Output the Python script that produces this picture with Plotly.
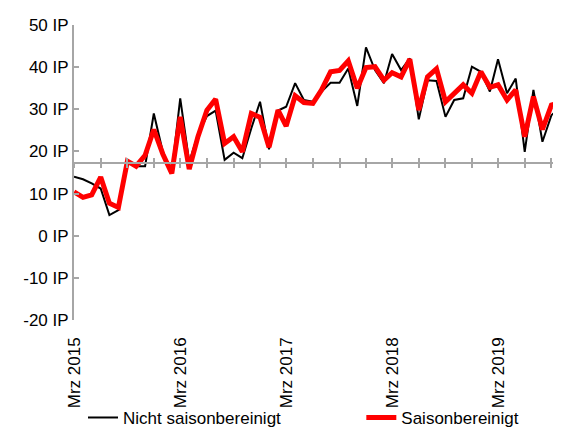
import pandas as pd
import plotly.graph_objects as go

months = pd.date_range("2015-03-01", periods=56, freq="MS")
nicht_saisonbereinigt = [
    14.0, 13.4, 12.4, 11.2, 4.9, 6.1, 17.6, 16.5, 16.5, 29.0, 19.9, 15.2,
    32.6, 17.5, 24.0, 28.4, 29.7, 18.0, 19.7, 18.4, 25.5, 31.8, 20.5, 29.7,
    30.6, 36.2, 32.2, 31.8, 34.2, 36.3, 36.3, 39.7, 30.8, 44.7, 39.3, 36.2,
    43.1, 39.3, 42.1, 27.6, 36.9, 36.7, 28.2, 32.2, 32.6, 40.1, 38.9, 34.2,
    41.9, 33.8, 37.3, 19.9, 34.6, 22.3, 28.6, 30.5,
]
saisonbereinigt = [
    10.4, 9.1, 9.7, 13.9, 7.7, 6.7, 17.7, 16.5, 19.1, 25.2, 19.4, 14.8,
    28.2, 15.8, 23.5, 29.8, 32.4, 21.9, 23.5, 19.9, 29.0, 28.1, 21.0, 29.8,
    26.0, 33.2, 31.6, 31.4, 34.6, 38.9, 39.2, 41.5, 35.0, 39.9, 40.1, 36.9,
    38.7, 37.7, 41.9, 29.8, 37.7, 39.6, 31.8, 33.8, 35.8, 33.8, 38.9, 35.2,
    35.8, 32.2, 34.6, 23.5, 33.0, 25.2, 31.0, 31.6,
]
tick_dates = ["2015-03-01", "2016-03-01", "2017-03-01", "2018-03-01", "2019-03-01"]
tick_labels = ["Mrz 2015", "Mrz 2016", "Mrz 2017", "Mrz 2018", "Mrz 2019"]
y_ticks = [-20, -10, 0, 10, 20, 30, 40, 50]
y_labels = [f"{v} IP" for v in y_ticks]
x_cross = 17.2
y_min, y_max = -20, 50
x_range = ["2015-03-01", "2019-10-04"]

FONT = "Liberation Sans, Arial, sans-serif"
GRAY = "#a6a6a6"

fig = go.Figure()
fig.add_trace(go.Scatter(x=months, y=nicht_saisonbereinigt, mode="lines",
                         name="Nicht saisonbereinigt", legend="legend",
                         line=dict(color="black", width=2)))
fig.add_trace(go.Scatter(x=months, y=saisonbereinigt, mode="lines",
                         name="Saisonbereinigt", legend="legend2",
                         line=dict(color="#ff0000", width=5)))

pos = (x_cross - y_min) / (y_max - y_min)
common = dict(overlaying="x", matches="x", anchor="free", position=pos,
              type="date", showline=True, linecolor=GRAY, linewidth=2,
              showticklabels=False, showgrid=False, zeroline=False,
              tick0="2015-03-01", dtick="M3", ticklen=4, tickwidth=2,
              tickcolor=GRAY, automargin=False)

legend_style = dict(orientation="h", xanchor="left", y=-0.332,
                    yanchor="middle", font=dict(size=17),
                    bgcolor="rgba(0,0,0,0)")

# page body has an 8px default margin, so the figure is sized to fit it
fig.update_layout(
    width=553, height=421,
    margin=dict(l=66, r=0, t=17, b=109, autoexpand=False),
    paper_bgcolor="white", plot_bgcolor="white",
    font=dict(family=FONT, size=17, color="black"),
    showlegend=True,
    legend=dict(x=0.0185, **legend_style),
    legend2=dict(x=0.59, **legend_style),
    xaxis=dict(type="date", range=x_range, showline=False, showgrid=False,
               zeroline=False, tickvals=tick_dates, ticktext=tick_labels,
               tickangle=-90, ticks="", tickfont=dict(size=17),
               ticklabelstandoff=13, automargin=False),
    xaxis2=dict(ticks="outside", **common),
    xaxis3=dict(ticks="inside", **common),
    yaxis=dict(range=[y_min, y_max], tickvals=y_ticks, ticktext=y_labels,
               showline=True, linecolor=GRAY, linewidth=2, ticks="inside",
               ticklen=5, tickwidth=2, tickcolor=GRAY, showgrid=False,
               zeroline=False, tickfont=dict(size=17), automargin=False),
)
fig.add_trace(go.Scatter(x=[months[0]], y=[None], xaxis="x2", showlegend=False,
                         hoverinfo="skip"))
fig.add_trace(go.Scatter(x=[months[0]], y=[None], xaxis="x3", showlegend=False,
                         hoverinfo="skip"))

fig.write_html("out.html")
